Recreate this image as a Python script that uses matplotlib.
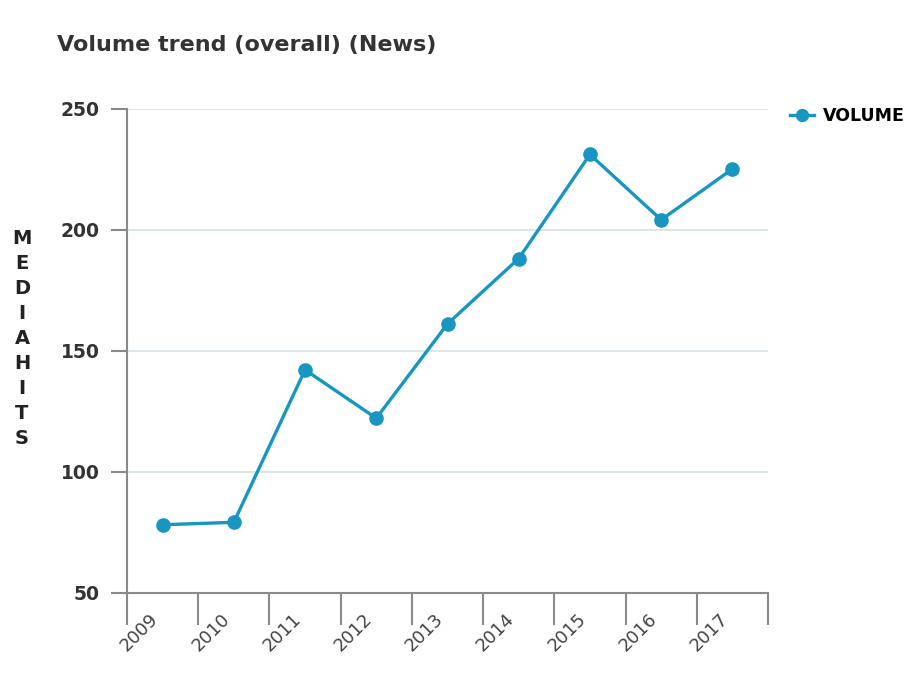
import matplotlib.pyplot as plt
import matplotlib.transforms as mtransforms
import numpy as np

# data
years = ['2009', '2010', '2011', '2012', '2013', '2014', '2015', '2016', '2017']
volume = [78, 79, 142, 122, 161, 188, 231, 204, 225]

lineColor = '#1796c1'
axisColor = '#8a8a8a'
textColor = '#333333'

fig = plt.figure(figsize=(9.05, 6.81), dpi=100)
ax = fig.add_axes([127/905, 1 - 592.5/681, (768 - 127)/905, (592.5 - 108.5)/681])

xPos = np.arange(len(years))
ax.plot(xPos, volume, color=lineColor, linewidth=2.4, marker='o', markersize=9.5,
        label='VOLUME')

ax.set_xlim(-0.5, len(years) - 0.5)
ax.set_ylim(50, 250)
ax.set_yticks([50, 100, 150, 200, 250])

# horizontal grid only
for yv in [100, 150, 200, 250]:
    ax.axhline(yv, color='#d6e0e6', linewidth=1.2, zorder=0)

for side in ['top', 'right']:
    ax.spines[side].set_visible(False)
for side in ['left', 'bottom']:
    ax.spines[side].set_color(axisColor)
    ax.spines[side].set_linewidth(1.5)

# y ticks
ax.tick_params(axis='y', direction='out', length=11.5, width=1.5, color=axisColor,
               pad=8, labelsize=13.5, labelcolor=textColor)
for lbl in ax.get_yticklabels():
    lbl.set_fontweight('bold')

# x: labels at category centres, tick marks at boundaries
ax.set_xticks(xPos)
ax.set_xticklabels(years, rotation=45, ha='right', va='center', rotation_mode='anchor',
                   fontsize=13, color='#444444')
ax.tick_params(axis='x', which='major', length=0, pad=17)
ax.set_xticks(np.arange(-0.5, len(years)), minor=True)
ax.tick_params(axis='x', which='minor', direction='out', length=23, width=1.5,
               color=axisColor)
shift = mtransforms.ScaledTranslation(-7/100, 0, fig.dpi_scale_trans)
for lbl in ax.get_xticklabels():
    lbl.set_transform(lbl.get_transform() + shift)

ax.legend(loc='upper left', bbox_to_anchor=(1.01, 1.035), frameon=False,
          handlelength=1.4, handletextpad=0.5, markerscale=0.9,
          prop={'weight': 'bold', 'size': 12.5})

fig.text(57/905, 1 - 45/681, 'Volume trend (overall) (News)', fontsize=16,
         fontweight='bold', color=textColor, va='center', ha='left')

fig.text(22/905, 1 - 338/681, '\n'.join('MEDIAHITS'), fontsize=14,
         fontweight='bold', color='#222222', ha='center', va='center',
         linespacing=1.4)

fig.savefig('out.png', dpi=100)
